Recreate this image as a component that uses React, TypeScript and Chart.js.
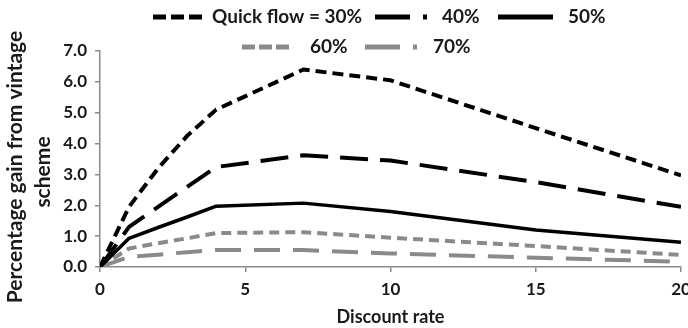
import React, { useEffect, useRef } from 'react';
import { Chart, registerables } from 'chart.js';

Chart.register(...registerables);

// Data
const discountRates = [0, 1, 2, 3, 4, 7, 10, 15, 20];
const flow30 = [0, 1.95, 3.2, 4.25, 5.1, 6.4, 6.05, 4.5, 2.97];
const flow40 = [0, 1.3, 1.95, 2.6, 3.24, 3.62, 3.45, 2.75, 1.95];
const flow50 = [0, 0.93, 1.28, 1.62, 1.97, 2.07, 1.8, 1.2, 0.8];
const flow60 = [0, 0.6, 0.77, 0.93, 1.1, 1.13, 0.95, 0.68, 0.39];
const flow70 = [0, 0.33, 0.4, 0.48, 0.55, 0.55, 0.44, 0.3, 0.17];
const seriesLabels = ['Quick flow = 30%', '40%', '50%', '60%', '70%'];
const yTickValues = [0, 1, 2, 3, 4, 5, 6, 7];
const xTickValues = [0, 5, 10, 15, 20];
const xTitle = 'Discount rate';
const yTitle = ['Percentage gain from vintage', 'scheme'];

const FONT = 'Lato, "Liberation Sans", sans-serif';
const TEXT = '#1a1a1a';
const BLACK = '#000000';
const GRAY = '#8a8a8a';

const lineDashes = [[11, 6], [28, 12], [], [10, 6], [26, 13]];
const colors = [BLACK, BLACK, BLACK, GRAY, GRAY];
const widths = [4, 4, 3.5, 4, 4];

// Legend layout (styles/positions only)
const legendDashes = [[13, 5], [35, 13, 4, 100], [], [13, 4], [35, 13, 4, 100]];
const legendSampleX = [153, 375, 498, 242, 365];
const legendSampleLen = [50, 52, 55, 47, 52];
const legendTextX = [212, 442, 568, 310, 433];
const legendY = [17, 17, 17, 47, 47];

const customOverlay = {
  id: 'customOverlay',
  afterDraw(chart: any) {
    const ctx = chart.ctx as CanvasRenderingContext2D;
    ctx.save();
    ctx.font = `bold 19px ${FONT}`;
    ctx.textBaseline = 'middle';
    ctx.textAlign = 'left';
    seriesLabels.forEach((label, i) => {
      const y = legendY[i];
      ctx.strokeStyle = colors[i];
      ctx.lineWidth = 5;
      ctx.lineCap = 'butt';
      ctx.setLineDash(legendDashes[i]);
      ctx.beginPath();
      ctx.moveTo(legendSampleX[i], y);
      ctx.lineTo(legendSampleX[i] + legendSampleLen[i], y);
      ctx.stroke();
      ctx.setLineDash([]);
      ctx.fillStyle = TEXT;
      ctx.fillText(label, legendTextX[i], y);
    });
    // y-axis title (two lines, rotated)
    ctx.font = `bold 21px ${FONT}`;
    ctx.textAlign = 'center';
    const titleX = [15, 43];
    const titleY = [167, 172];
    yTitle.forEach((t, i) => {
      ctx.save();
      ctx.translate(titleX[i], titleY[i]);
      ctx.rotate(-Math.PI / 2);
      ctx.fillText(t, 0, 0);
      ctx.restore();
    });
    ctx.restore();
  },
};

export default function App() {
  const canvasRef = useRef<HTMLCanvasElement | null>(null);

  useEffect(() => {
    const canvas = canvasRef.current;
    if (!canvas) return;
    const series = [flow30, flow40, flow50, flow60, flow70];
    const chart = new Chart(canvas, {
      type: 'line',
      data: {
        datasets: series.map((vals, i) => ({
          label: seriesLabels[i],
          data: discountRates.map((x, j) => ({ x, y: vals[j] })),
          borderColor: colors[i],
          backgroundColor: colors[i],
          borderWidth: widths[i],
          borderDash: lineDashes[i],
          borderCapStyle: 'butt' as const,
          borderJoinStyle: 'round' as const,
          pointRadius: 0,
          tension: 0,
          fill: false,
        })),
      },
      options: {
        responsive: false,
        animation: false,
        layout: { padding: { top: 51, right: 0, left: 0, bottom: 0 } },
        plugins: { legend: { display: false }, tooltip: { enabled: false } },
        scales: {
          x: {
            type: 'linear',
            min: 0,
            max: 20,
            afterBuildTicks: (s: any) => {
              s.ticks = xTickValues.map((v) => ({ value: v }));
            },
            afterFit: (s: any) => {
              s.height = 61;
              s.paddingRight = 7;
            },
            border: { color: GRAY, width: 1.5 },
            grid: { display: true, drawOnChartArea: false, drawTicks: true, tickLength: 5, color: GRAY, lineWidth: 1.5 },
            ticks: { font: { family: FONT, size: 17, weight: 'bold' }, color: TEXT, padding: 7, maxRotation: 0 },
            title: { display: true, text: xTitle, font: { family: FONT, size: 18, weight: 'bold' }, color: TEXT, padding: { top: 0, bottom: 0 } },
          },
          y: {
            type: 'linear',
            min: 0,
            max: 7,
            afterBuildTicks: (s: any) => {
              s.ticks = yTickValues.map((v) => ({ value: v }));
            },
            afterFit: (s: any) => {
              s.width = 100;
            },
            border: { color: GRAY, width: 1.5 },
            grid: { display: true, drawOnChartArea: false, drawTicks: true, tickLength: 5, color: GRAY, lineWidth: 1.5 },
            ticks: {
              font: { family: FONT, size: 17, weight: 'bold' },
              color: TEXT,
              padding: 8,
              callback: (v: any) => Number(v).toFixed(1),
            },
            title: { display: false },
          },
        },
      },
      plugins: [customOverlay],
    });
    return () => chart.destroy();
  }, []);

  return (
    <div style={{ position: 'absolute', left: 0, top: 0, width: 688, height: 328 }}>
      <canvas ref={canvasRef} width={688} height={328} style={{ display: 'block' }} />
    </div>
  );
}
